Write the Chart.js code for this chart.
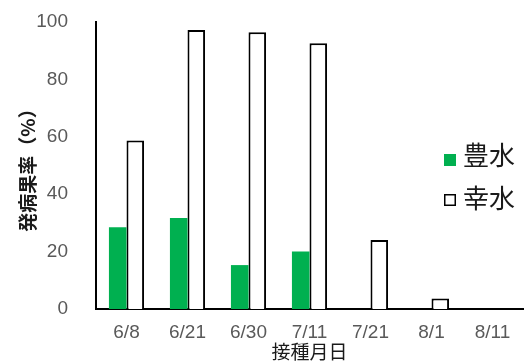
<!DOCTYPE html>
<html>
<head>
<meta charset="utf-8">
<script src="https://cdn.jsdelivr.net/npm/chart.js@4/dist/chart.umd.min.js"></script>
<style>
  html, body { margin: 0; padding: 0; background: #fff; }
  canvas { display: block; }
</style>
</head>
<body>
<canvas id="c" width="530" height="363"></canvas>
<script>
// 接種月日
const categories = ['6/8', '6/21', '6/30', '7/11', '7/21', '8/1', '8/11'];
// 発病果率 (%)
const housui = [28.5, 31.7, 15.3, 20.0, 0, 0, 0];
const kousui = [58.7, 97.2, 96.4, 92.6, 24.0, 3.7, 0];
const yTicks = [0, 20, 40, 60, 80, 100];

const numFont = 'Liberation Sans, Noto Sans CJK JP, sans-serif';
const jpFont = 'Noto Sans CJK JP, sans-serif';

// Legend drawn to the right inside the plot area
const sideLegend = {
  id: 'sideLegend',
  afterDraw(chart) {
    const ctx = chart.ctx;
    const rows = [
      { ds: chart.data.datasets[0], boxY: 160, textY: 155 },
      { ds: chart.data.datasets[1], boxY: 200, textY: 198 }
    ];
    ctx.save();
    rows.forEach(r => {
      const s = 12;
      const x = 444;
      ctx.fillStyle = r.ds.backgroundColor;
      ctx.fillRect(x, r.boxY - s / 2, s, s);
      if (r.ds.borderWidth) {
        ctx.strokeStyle = r.ds.borderColor;
        ctx.lineWidth = 1.5;
        ctx.strokeRect(x + 0.75, r.boxY - s / 2 + 0.75, s - 1.5, s - 1.5);
      }
      ctx.fillStyle = '#1a1a1a';
      ctx.font = '26px ' + jpFont;
      ctx.textBaseline = 'middle';
      ctx.textAlign = 'left';
      ctx.fillText(r.ds.label, 463, r.textY);
    });
    ctx.restore();
  }
};

new Chart(document.getElementById('c'), {
  type: 'bar',
  data: {
    labels: categories,
    datasets: [
      {
        label: '豊水',
        data: housui,
        backgroundColor: '#00B050',
        borderWidth: 0
      },
      {
        label: '幸水',
        data: kousui,
        backgroundColor: '#ffffff',
        borderColor: '#000000',
        borderWidth: 2,
        borderSkipped: 'bottom'
      }
    ]
  },
  options: {
    responsive: false,
    animation: false,
    devicePixelRatio: 1,
    datasets: {
      bar: { categoryPercentage: 0.576, barPercentage: 1 }
    },
    layout: { padding: { top: 22, right: 7, left: 0, bottom: 0 } },
    plugins: {
      legend: { display: false },
      tooltip: { enabled: false }
    },
    scales: {
      x: {
        grid: { display: false, drawTicks: false },
        border: { display: true, color: '#000', width: 2 },
        ticks: {
          color: '#595959',
          font: { family: numFont, size: 19 },
          padding: 12,
          maxRotation: 0,
          autoSkip: false
        },
        title: {
          display: true,
          text: '接種月日',
          color: '#1a1a1a',
          font: { family: jpFont, size: 19 },
          padding: { top: 0, bottom: 0 }
        },
        afterFit(scale) { scale.height = 54; }
      },
      y: {
        min: 0,
        max: 100,
        afterBuildTicks(scale) { scale.ticks = yTicks.map(v => ({ value: v })); },
        grid: { display: false, drawTicks: false },
        border: { display: true, color: '#000', width: 2 },
        ticks: {
          color: '#595959',
          font: { family: numFont, size: 19 },
          padding: 28
        },
        title: {
          display: true,
          text: '発病果率（%）',
          color: '#1a1a1a',
          font: { family: jpFont, size: 19, weight: 'bold' },
          padding: { top: 16, bottom: 0 }
        },
        afterFit(scale) {
          scale.width = 96;
          scale.paddingTop = 0;
          scale.paddingBottom = 0;
        }
      }
    }
  },
  plugins: [sideLegend]
});
</script>
</body>
</html>
